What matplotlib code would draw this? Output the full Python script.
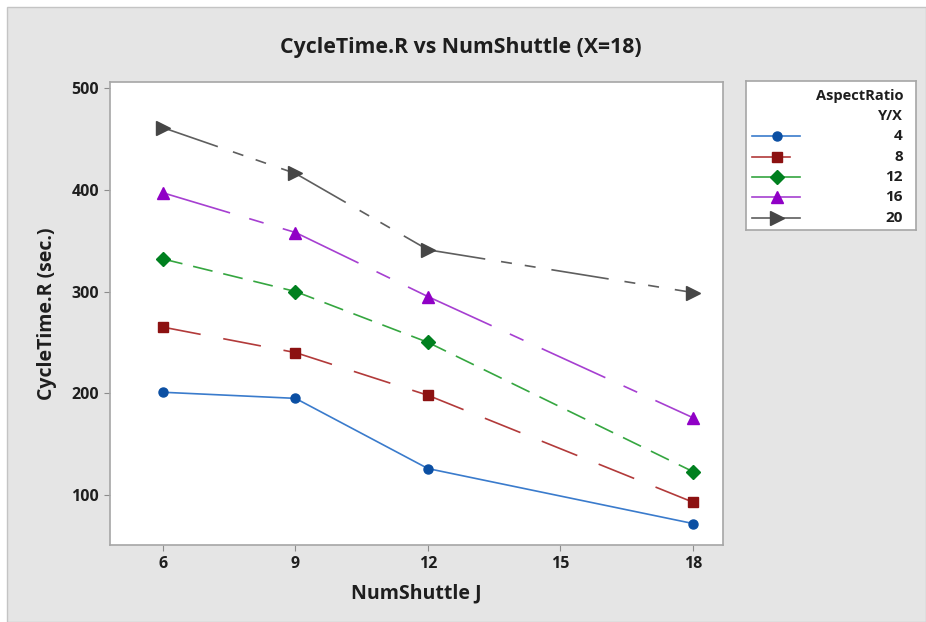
import matplotlib
matplotlib.use("Agg")
import matplotlib.pyplot as plt
from matplotlib.patches import Rectangle
from matplotlib.lines import Line2D

plt.rcParams['font.family'] = ['Open Sans', 'DejaVu Sans']

# Data
num_shuttle = [6, 9, 12, 18]
aspect_ratios = ["4", "8", "12", "16", "20"]
cycle_4 = [201, 195, 126, 72]
cycle_8 = [265, 240, 198, 93]
cycle_12 = [332, 300, 250, 123]
cycle_16 = [397, 358, 295, 176]
cycle_20 = [461, 416, 341, 299]
x_ticks = [6, 9, 12, 15, 18]
y_ticks = [100, 200, 300, 400, 500]

series = [cycle_4, cycle_8, cycle_12, cycle_16, cycle_20]
line_colors = ["#3a7bcc", "#b23a3a", "#35a640", "#a63fd1", "#5e5e5e"]
marker_colors = ["#0b4fa3", "#8c1111", "#00801f", "#9000c6", "#464646"]
markers = ["o", "s", "D", "^", ">"]
marker_sizes = [6.5, 7, 7.5, 9, 10]
dash_styles = [
    None,
    (0, (23.0, 13.8)),
    (0, (12.0, 6.6)),
    (0, (42.0, 12.0, 9.0, 12.0)),
    (0, (34.8, 9.6, 6.6, 7.8, 6.6, 9.6)),
]
LW = 1.2

W, H = 926, 622
fig = plt.figure(figsize=(W / 100, H / 100), dpi=100)
fig.patch.set_facecolor("white")

def fx(px):
    return px / W

def fy(py):
    return 1 - py / H

# grey panel behind everything
fig.patches.append(Rectangle((fx(7), 0), fx(926 - 7), fy(7),
                             transform=fig.transFigure, facecolor="#e5e5e5",
                             edgecolor="#c4c4c4", linewidth=1.0, zorder=-10))

ax = fig.add_axes([fx(110), fy(545), fx(723 - 110), fy(82) - fy(545)])
ax.set_facecolor("white")

for vals, lc, mc, mk, ms, ds in zip(series, line_colors, marker_colors, markers,
                                    marker_sizes, dash_styles):
    ls = "-" if ds is None else ds
    # each segment restarts its dash pattern at the data point
    for i in range(len(num_shuttle) - 1):
        ax.plot(num_shuttle[i:i + 2], vals[i:i + 2], color=lc, linewidth=LW,
                linestyle=ls, solid_capstyle="butt", dash_capstyle="butt", zorder=2)
    ax.plot(num_shuttle, vals, linestyle="none", marker=mk, markersize=ms,
            markerfacecolor=mc, markeredgecolor=mc, zorder=3)

ax.set_xlim(4.80, 18.68)
ax.set_ylim(50.9, 505.9)
ax.set_xticks(x_ticks)
ax.set_yticks(y_ticks)
ax.tick_params(axis="both", direction="out", length=4, width=0.8, color="#8c8c8c",
               labelsize=11.5, labelcolor="#1e1e1e", pad=4)
for lab in ax.get_xticklabels() + ax.get_yticklabels():
    lab.set_fontweight("bold")
for sp in ax.spines.values():
    sp.set_color("#a6a6a6")
    sp.set_linewidth(1.2)

ax.set_xlabel("NumShuttle J", fontsize=14, fontweight="bold", color="#1e1e1e", labelpad=8)
ax.set_ylabel("CycleTime.R (sec.)", fontsize=14, fontweight="bold", color="#1e1e1e", labelpad=10)
fig.text(fx(461), fy(47), "CycleTime.R vs NumShuttle (X=18)", ha="center", va="center",
         fontsize=15.3, fontweight="bold", color="#1e1e1e")

# legend panel
lg = fig.add_axes([fx(746), fy(230), fx(916 - 746), fy(81) - fy(230)])
lg.set_xlim(746, 916)
lg.set_ylim(230, 81)
lg.set_xticks([])
lg.set_yticks([])
lg.set_facecolor("white")
for sp in lg.spines.values():
    sp.set_color("#a6a6a6")
    sp.set_linewidth(1.2)

lg.text(903, 96, "AspectRatio", ha="right", va="center", fontsize=10.5,
        fontweight="bold", color="#1e1e1e")
lg.text(903, 116, "Y/X", ha="right", va="center", fontsize=10.5,
        fontweight="bold", color="#1e1e1e")
row_y = [136, 157, 177, 197, 218]
line_ends = [800, 790, 800, 800, 800]
for name, ry, le, lc, mc, mk, ms in zip(aspect_ratios, row_y, line_ends, line_colors,
                                        marker_colors, markers, marker_sizes):
    lg.add_line(Line2D([752, le], [ry, ry], color=lc, linewidth=LW))
    lg.add_line(Line2D([777], [ry], marker=mk, markersize=ms, markerfacecolor=mc,
                       markeredgecolor=mc, linestyle="none"))
    lg.text(903, ry, name, ha="right", va="center", fontsize=11,
            fontweight="bold", color="#1e1e1e")

fig.savefig("out.png", dpi=100, facecolor=fig.get_facecolor())
